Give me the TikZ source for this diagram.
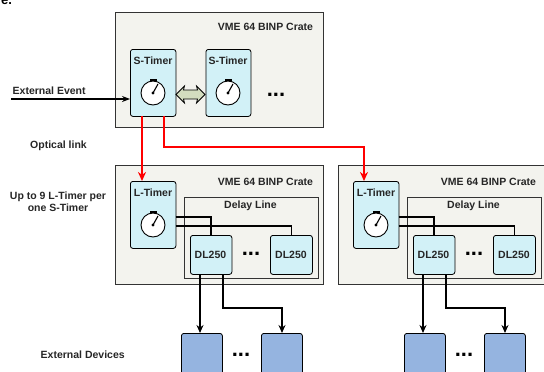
\documentclass[tikz,border=0pt]{standalone}
\usepackage{fontspec}
\setmainfont{Liberation Sans}
\usetikzlibrary{arrows.meta}
\definecolor{crate}{HTML}{F3F3EE}
\definecolor{mod}{HTML}{D2F1F7}
\definecolor{dev}{HTML}{95B4E0}
\definecolor{link}{HTML}{D3DDBF}
\newcommand{\clockat}[2]{%
  \fill[black] (#1-3.5,#2-14.5) rectangle (#1+3.5,#2-11.5);
  \draw[black,line width=0.9pt,fill=white] (#1,#2) circle (12);
  \draw[black,line width=1.1pt] (#1,#2) -- (#1+5,#2-9);
  \fill[black] (#1,#2) circle (1.7);
}
\tikzset{
  x=1pt,y=-1pt,
  lbl/.style={font=\bfseries\fontsize{10.5}{12}\selectfont,text=black!85,inner sep=0pt,align=center},
  crate box/.style={draw=black!80,fill=crate,line width=1pt},
  delay box/.style={draw=black!80,fill=crate,line width=1pt},
  module/.style={draw=black,fill=mod,rounded corners=2.5pt,line width=0.8pt},
  device/.style={draw=black,fill=dev,rounded corners=2.5pt,line width=0.8pt},
  wire/.style={draw=black,line width=1.7pt},
  awire/.style={wire,-{Stealth[length=8pt,width=7pt]}},
  red link/.style={draw=red,line width=2.2pt},
  red arrow/.style={red link,-{Stealth[length=9pt,width=8pt]}},
  dotsl/.style={font=\bfseries\fontsize{22}{22}\selectfont,inner sep=0pt,text=black},
  link arrow/.style={draw=black,fill=link,line width=0.8pt,line join=miter},
}
\newcommand{\boxat}[6][module]{\node[#1,minimum width={(#4)-(#3)},minimum height={(#6)-(#5)},inner sep=0pt,anchor=north west] (#2) at (#3,#5) {};}
\begin{document}
\begin{tikzpicture}
\useasboundingbox (0,0) rectangle (544,372);
\begin{scope}
\clip (0,0) rectangle (544,372);
% text fragment
\node[anchor=base west,inner sep=0pt,font=\bfseries\fontsize{13}{13}\selectfont] (frag) at (1,5) {e.};
% crates
\boxat[crate box]{c1}{115}{323}{12}{127}
\boxat[crate box]{c2}{115}{323}{165}{284}
\boxat[crate box]{c3}{337.5}{560}{165}{284}
\node[lbl] (c1t) at (265.5,26.5) {VME 64 BINP Crate};
\node[lbl] (c2t) at (265.5,182) {VME 64 BINP Crate};
\node[lbl] (c3t) at (488.5,182) {VME 64 BINP Crate};
% S timers
\boxat{s1}{130}{175.5}{49}{116}
\boxat{s2}{205.5}{250.5}{49}{116}
\node[lbl] (s1t) at (153,61) {S-Timer};
\node[lbl] (s2t) at (228,61) {S-Timer};
\clockat{153}{93}
\clockat{228}{93}
\draw[link arrow] (176,94.5) -- (184.5,86) -- (183.5,90) -- (197.5,90) -- (196.5,86) -- (205,94.5) -- (196.5,103) -- (197.5,99) -- (183.5,99) -- (184.5,103) -- cycle;
\node[dotsl] (d0) at (276,95) {...};
% L timers
\foreach \o/\n in {0/a,223/b}{
  \boxat{l\n}{130+\o}{175.5+\o}{181}{248}
  \node[lbl] (lt\n) at (153+\o,193) {L-Timer};
  \clockat{153+\o}{225}
  \boxat[delay box]{dl\n}{183.5+\o}{318+\o}{197}{278}
  \node[lbl] (dlt\n) at (250.5+\o,206) {Delay Line};
  \boxat{p\n}{190+\o}{231.5+\o}{235}{274}
  \boxat{q\n}{270+\o}{312+\o}{235}{274}
  \node[lbl] (pt\n) at (210.5+\o,254.5) {DL250};
  \node[lbl] (qt\n) at (291+\o,254.5) {DL250};
  \node[dotsl] (e\n) at (251+\o,254) {...};
  \boxat[device]{u\n}{181+\o}{222+\o}{333}{385}
  \boxat[device]{v\n}{261+\o}{302+\o}{333}{385}
  \node[dotsl] (f\n) at (241+\o,355) {...};
  \coordinate (w1\n) at (175.5+\o,217);
  \coordinate (w2\n) at (175.5+\o,226);
  \draw[wire] (w1\n) -| (p\n.north);
  \draw[wire] (w2\n) -| (q\n.north);
  \coordinate (o1\n) at (200+\o,274);
  \coordinate (o2\n) at (223+\o,274);
  \coordinate (i1\n) at (200+\o,333);
  \coordinate (i2\n) at (282+\o,333);
  \draw[awire] (o1\n) -- (i1\n);
  \draw[awire] (o2\n) -- (223+\o,308) -- (282+\o,308) -- (i2\n);
}
% red links
\coordinate (r1) at (142,116);
\coordinate (r2) at (142,181);
\coordinate (r3) at (164,116);
\coordinate (r4) at (364,181);
\draw[red arrow] (r1) -- (r2);
\draw[red arrow] (r3) -- (164,147) -- (364,147) -- (r4);
% external event
\coordinate (ev) at (11,99);
\draw[black,line width=1.5pt,-{Stealth[length=8pt,width=6pt]}] (ev) -- (s1.west |- ev);
% left labels
\node[lbl,anchor=west] (t1) at (12.5,91) {External Event};
\node[lbl,anchor=west] (t2) at (30,146) {Optical link};
\node[lbl] (t3) at (58,202) {Up to 9 L-Timer per\\one S-Timer};
\node[lbl,anchor=west] (t4) at (40.5,355) {External Devices};
\end{scope}
\end{tikzpicture}
\end{document}
